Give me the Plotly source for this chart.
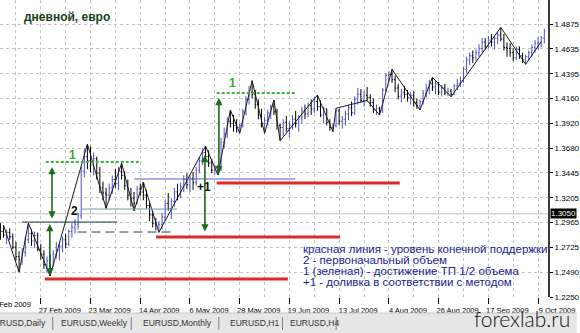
import pandas as pd
import plotly.graph_objects as go

# ---------------- data ----------------
DATES = pd.bdate_range("2009-02-10", periods=176)

OPEN0 = 1.2930
HIGH = [1.2960,1.2942,1.2900,1.2910,1.2860,1.2780,1.2690,1.2720,1.2830,1.2962,
        1.2900,1.2880,1.2870,1.2760,1.2700,1.2640,1.2660,1.2700,1.2780,1.2760,
        1.2830,1.2860,1.2900,1.2960,1.3000,1.3060,1.3500,1.3680,1.3721,1.3700,
        1.3640,1.3600,1.3500,1.3360,1.3300,1.3340,1.3420,1.3480,1.3500,1.3536,
        1.3460,1.3380,1.3300,1.3260,1.3320,1.3340,1.3356,1.3280,1.3160,1.3080,
        1.3010,1.2980,1.3060,1.3180,1.3250,1.3200,1.3300,1.3340,1.3350,1.3420,
        1.3440,1.3420,1.3450,1.3500,1.3600,1.3680,1.3702,1.3660,1.3580,1.3520,
        1.3520,1.3780,1.3880,1.3980,1.4048,1.4000,1.3960,1.3920,1.4060,1.4180,
        1.4280,1.4330,1.4240,1.4150,1.4060,1.3980,1.4050,1.4100,1.4144,1.4060,
        1.3920,1.3960,1.3990,1.3940,1.4000,1.4040,1.4000,1.4080,1.4100,1.4120,
        1.4150,1.4170,1.4192,1.4140,1.4080,1.4060,1.3960,1.3920,1.4065,1.4060,
        1.3990,1.4040,1.4100,1.4130,1.4180,1.4260,1.4250,1.4230,1.4270,1.4200,
        1.4160,1.4100,1.4080,1.4260,1.4400,1.4420,1.4439,1.4380,1.4300,1.4250,
        1.4280,1.4240,1.4220,1.4230,1.4160,1.4150,1.4240,1.4300,1.4340,1.4363,
        1.4330,1.4320,1.4290,1.4300,1.4260,1.4250,1.4300,1.4350,1.4370,1.4460,
        1.4560,1.4600,1.4620,1.4630,1.4680,1.4740,1.4740,1.4760,1.4780,1.4760,
        1.4800,1.4843,1.4780,1.4700,1.4690,1.4640,1.4660,1.4660,1.4600,1.4580,
        1.4620,1.4680,1.4720,1.4750,1.4760,1.4830]
LOW = [1.2800,1.2820,1.2760,1.2800,1.2710,1.2600,1.2490,1.2560,1.2640,1.2770,
       1.2740,1.2720,1.2690,1.2610,1.2520,1.2480,1.2452,1.2540,1.2620,1.2600,
       1.2680,1.2720,1.2740,1.2820,1.2860,1.2900,1.3000,1.3400,1.3480,1.3450,
       1.3420,1.3380,1.3250,1.3180,1.3103,1.3180,1.3240,1.3300,1.3280,1.3380,
       1.3280,1.3180,1.3120,1.3080,1.3140,1.3220,1.3180,1.3100,1.2980,1.2920,
       1.2890,1.2872,1.2900,1.2980,1.3080,1.3000,1.3120,1.3180,1.3200,1.3260,
       1.3290,1.3260,1.3280,1.3320,1.3440,1.3520,1.3560,1.3500,1.3440,1.3430,
       1.3423,1.3460,1.3680,1.3780,1.3880,1.3840,1.3830,1.3824,1.3880,1.4000,
       1.4100,1.4160,1.4060,1.3960,1.3880,1.3824,1.3900,1.3960,1.4000,1.3860,
       1.3753,1.3800,1.3840,1.3780,1.3860,1.3880,1.3840,1.3920,1.3960,1.3980,
       1.4000,1.4020,1.4040,1.3980,1.3920,1.3900,1.3850,1.3840,1.3880,1.3900,
       1.3870,1.3900,1.3950,1.3990,1.4000,1.4100,1.4120,1.4080,1.4130,1.4080,
       1.4020,1.4000,1.4000,1.4020,1.4220,1.4320,1.4310,1.4220,1.4150,1.4120,
       1.4160,1.4130,1.4100,1.4080,1.4060,1.4048,1.4100,1.4170,1.4200,1.4230,
       1.4200,1.4190,1.4180,1.4190,1.4180,1.4176,1.4190,1.4240,1.4270,1.4310,
       1.4400,1.4480,1.4500,1.4520,1.4560,1.4600,1.4630,1.4640,1.4660,1.4630,
       1.4680,1.4710,1.4620,1.4560,1.4560,1.4520,1.4530,1.4540,1.4500,1.4487,
       1.4520,1.4560,1.4600,1.4630,1.4650,1.4690]
CLOSE = [1.2880,1.2845,1.2870,1.2830,1.2730,1.2640,1.2610,1.2680,1.2800,1.2860,
         1.2790,1.2840,1.2710,1.2660,1.2560,1.2600,1.2520,1.2660,1.2700,1.2740,
         1.2800,1.2760,1.2880,1.2920,1.2950,1.3030,1.3460,1.3600,1.3560,1.3520,
         1.3580,1.3440,1.3300,1.3250,1.3230,1.3300,1.3380,1.3340,1.3460,1.3420,
         1.3320,1.3230,1.3200,1.3150,1.3290,1.3260,1.3230,1.3130,1.3040,1.2960,
         1.2940,1.2950,1.3020,1.3150,1.3100,1.3170,1.3260,1.3220,1.3310,1.3380,
         1.3330,1.3390,1.3350,1.3470,1.3560,1.3640,1.3600,1.3540,1.3470,1.3500,
         1.3480,1.3740,1.3820,1.3940,1.3920,1.3900,1.3880,1.3900,1.4030,1.4150,
         1.4220,1.4200,1.4100,1.4000,1.3920,1.3950,1.4020,1.4080,1.4030,1.3900,
         1.3880,1.3930,1.3870,1.3900,1.3960,1.3920,1.3980,1.4040,1.4010,1.4090,
         1.4060,1.4130,1.4080,1.4000,1.4060,1.3930,1.3880,1.3900,1.4040,1.3940,
         1.3960,1.4010,1.4070,1.4020,1.4150,1.4200,1.4140,1.4190,1.4170,1.4120,
         1.4050,1.4060,1.4040,1.4240,1.4380,1.4390,1.4340,1.4260,1.4180,1.4220,
         1.4200,1.4170,1.4190,1.4120,1.4090,1.4130,1.4210,1.4260,1.4300,1.4270,
         1.4300,1.4220,1.4260,1.4210,1.4230,1.4200,1.4280,1.4300,1.4330,1.4440,
         1.4530,1.4570,1.4550,1.4600,1.4640,1.4700,1.4660,1.4720,1.4700,1.4740,
         1.4770,1.4730,1.4650,1.4640,1.4600,1.4550,1.4630,1.4570,1.4530,1.4560,
         1.4600,1.4650,1.4690,1.4700,1.4740,1.4800]

# ZigZag indicator vertices (bar index, price)
ZZ_IDX = [1, 6, 9, 16, 28, 34, 39, 43, 46, 51, 66, 70, 74, 77, 81, 85, 88, 90,
          102, 107, 108, 118, 122, 126, 135, 139, 145, 161, 169, 174]
ZZ_PRICE = [1.2942, 1.2490, 1.2962, 1.2452, 1.3721, 1.3103, 1.3536, 1.3080,
            1.3356, 1.2872, 1.3702, 1.3423, 1.4048, 1.3824, 1.4330, 1.3824,
            1.4144, 1.3753, 1.4192, 1.3840, 1.4065, 1.4140, 1.4000, 1.4439,
            1.4048, 1.4363, 1.4176, 1.4843, 1.4487, 1.4705]

Y_TICKS = [1.4875, 1.4635, 1.4395, 1.4160, 1.3920, 1.3680, 1.3445,
           1.3205, 1.2965, 1.2725, 1.2490, 1.2250]
X_TICK_IDX = [13, 29, 45, 61, 77, 93, 109, 125, 141, 157, 173]
X_CUT_IDX = -3            # "5 Feb 2009" label, cut by the left edge
MARK_PRICE = 1.3050       # grey horizontal level with price tag

# drawn levels: (kind, start bar, end bar, price)
LEVELS = [
    ("red",   14.3, 92.5, 1.2423),
    ("red",   50.1, 109.3, 1.2827),
    ("red",   69.6, 128.5, 1.3346),
    ("blue",  43.1, 94.9, 1.3385),
    ("teal",  26.1, 56.8, 1.3096),
    ("dark",  6.9, 37.6, 1.2971),
    ("dash",  24.8, 55.9, 1.2875),
    ("green", 14.6, 45.3, 1.3548),
    ("green", 69.6, 94.9, 1.4212),
]
# double-headed arrows: (bar, price top, price bottom)
ARROWS = [(16.6, 1.3500, 1.2991), (15.9, 1.2952, 1.2443),
          (65.8, 1.3616, 1.2866), (70.3, 1.4164, 1.3423)]
# chart labels: (text, kind, bar, price)
LABELS = [("1", "green", 23.2, 1.3616), ("2", "black", 23.9, 1.3077),
          ("1", "green", 74.8, 1.4305), ("+1", "black", 65.5, 1.3305)]

TITLE = "дневной, евро"
NOTES = ["красная линия - уровень конечной поддержки",
         "2 - первоначальный объем",
         "1 (зеленая) - достижение ТП 1/2 объема",
         "+1 - доливка в соответствии с методом"]
NOTES_BAR = 96.8
NOTES_PRICE = [1.2712, 1.2606, 1.2500, 1.2394]
TABS = ["EURUSD,Daily", "EURUSD,Weekly", "EURUSD,Monthly", "EURUSD,H1", "EURUSD,H4"]

# ---------------- figure ----------------
W, H = 580, 333
ML, MR, MT, MB = 0, 29, 0, 36
PW, PH = W - ML - MR, H - MT - MB
X0 = -0.128
X1 = X0 + PW / 3.125
Y1 = 1.5106
Y0 = Y1 - PH / 1040.0

X = list(range(len(CLOSE)))
OPEN = [OPEN0] + CLOSE[:-1]

BLUE = "#4f4fd0"
SMALL = "Liberation Sans Narrow, Liberation Sans, Arial"
MAIN = "Liberation Sans, Arial"

fig = go.Figure()
fig.add_trace(go.Ohlc(
    x=X, open=OPEN, high=HIGH, low=LOW, close=CLOSE,
    increasing=dict(line=dict(color=BLUE, width=1)),
    decreasing=dict(line=dict(color="#000000", width=1)),
    tickwidth=0.35, hoverinfo="skip", showlegend=False))
fig.add_trace(go.Scatter(x=ZZ_IDX, y=ZZ_PRICE, mode="lines",
                         line=dict(color="#1a1a1a", width=1),
                         hoverinfo="skip", showlegend=False))

STYLE = {
    "red":   dict(color="#e02828", width=3),
    "blue":  dict(color="#5a5ad0", width=1),
    "teal":  dict(color="#6f9c9c", width=1),
    "dark":  dict(color="#1c3b3b", width=1),
    "dash":  dict(color="#23433f", width=1, dash="9px,5px"),
    "green": dict(color="#3cb43c", width=2, dash="3px,2px"),
}
shapes = [dict(type="line", xref="paper", yref="y", x0=0, x1=1,
               y0=MARK_PRICE, y1=MARK_PRICE, line=dict(color="#c4c4c4", width=1),
               layer="below")]
for kind, a, b, p in LEVELS:
    shapes.append(dict(type="line", xref="x", yref="y", x0=a, x1=b, y0=p, y1=p,
                       line=STYLE[kind]))

def px_x(px):
    return (px - ML) / PW

def px_y(py):
    return (H - MB - py) / PH

# tab bar
shapes.append(dict(type="rect", xref="paper", yref="paper",
                   x0=px_x(0), x1=px_x(W), y0=px_y(H), y1=px_y(313),
                   fillcolor="#e6e6e6", line=dict(width=0), layer="above"))
shapes.append(dict(type="line", xref="paper", yref="paper",
                   x0=px_x(0), x1=px_x(W), y0=px_y(313), y1=px_y(313),
                   line=dict(color="#c8c8c8", width=1)))

annotations = []
for x, ytop, ybot in ARROWS:
    annotations.append(dict(x=x, y=ytop, ax=x, ay=ybot, xref="x", yref="y",
                            axref="x", ayref="y", text="", showarrow=True,
                            arrowhead=2, startarrowhead=2, arrowside="end+start",
                            arrowsize=0.9, startarrowsize=0.9, arrowwidth=1.6,
                            arrowcolor="#1a6b1a"))
for txt, kind, x, p in LABELS:
    annotations.append(dict(x=x, y=p, xref="x", yref="y", text="<b>%s</b>" % txt,
                            showarrow=False, xanchor="center", yanchor="middle",
                            font=dict(family=MAIN, size=12,
                                      color="#37a837" if kind == "green" else "#111111")))
for line, p in zip(NOTES, NOTES_PRICE):
    annotations.append(dict(x=NOTES_BAR, y=p, xref="x", yref="y", text=line,
                            showarrow=False, xanchor="left", yanchor="middle",
                            font=dict(family=MAIN, size=11.5, color="#1c1c8e")))
annotations.append(dict(x=px_x(22), y=px_y(17), xref="paper", yref="paper",
                        text="<b>%s</b>" % TITLE, showarrow=False,
                        xanchor="left", yanchor="middle",
                        font=dict(family=MAIN, size=12, color="#173f17")))
# price tag for the grey level
annotations.append(dict(x=1, y=MARK_PRICE, xref="paper", yref="y",
                        text="%.4f" % MARK_PRICE, showarrow=False,
                        xanchor="left", yanchor="middle", xshift=2,
                        bgcolor="#000000", borderpad=0,
                        font=dict(family=SMALL, size=8, color="#ffffff")))
# date label cut by the left edge
annotations.append(dict(x=(X_CUT_IDX - X0) / (X1 - X0), y=px_y(304),
                        xref="paper", yref="paper",
                        text=DATES[0].replace(day=5).strftime("%-d %b %Y"),
                        showarrow=False, xanchor="left", yanchor="middle", xshift=0,
                        font=dict(family=SMALL, size=7.5, color="#000000")))
# tabs
tab_x = [-14, 59, 142, 229, 290]
sep_x = [53, 132, 220, 284, 338]
for t, x in zip(TABS, tab_x):
    annotations.append(dict(x=px_x(x), y=px_y(323), xref="paper", yref="paper",
                            text=t, showarrow=False, xanchor="left", yanchor="middle",
                            font=dict(family=SMALL, size=8.5, color="#333333")))
for x in sep_x:
    shapes.append(dict(type="line", xref="paper", yref="paper",
                       x0=px_x(x), x1=px_x(x), y0=px_y(317), y1=px_y(330),
                       line=dict(color="#808080", width=1)))
annotations.append(dict(x=px_x(525), y=px_y(318), xref="paper", yref="paper",
                        text="forexlab.ru", showarrow=False,
                        xanchor="center", yanchor="middle",
                        font=dict(family="Lato, Liberation Sans", size=21,
                                  color="#111111", weight=300)))

fig.update_layout(
    width=W, height=H, margin=dict(l=ML, r=MR, t=MT, b=MB),
    paper_bgcolor="#ffffff", plot_bgcolor="#ffffff",
    shapes=shapes, annotations=annotations, showlegend=False,
    xaxis=dict(range=[X0, X1], rangeslider=dict(visible=False),
               tickvals=X_TICK_IDX,
               ticktext=[DATES[i].strftime("%-d %b %Y") for i in X_TICK_IDX],
               ticks="outside", ticklen=6, tickcolor="#000000",
               tickangle=0, ticklabelshift=19, ticklabelstandoff=0,
               tickfont=dict(family=SMALL, size=7.5, color="#000000"),
               showgrid=True, gridcolor="#c4c4c4", griddash="dot", gridwidth=1,
               minor=dict(tickmode="linear", tick0=5, dtick=8, showgrid=True,
                          gridcolor="#c4c4c4", griddash="dot", ticks=""),
               showline=False, zeroline=False, fixedrange=True),
    yaxis=dict(range=[Y0, Y1], side="right", tickvals=Y_TICKS,
               ticktext=["%.4f" % v for v in Y_TICKS],
               ticks="outside", ticklen=3, tickcolor="#000000",
               tickfont=dict(family=SMALL, size=8, color="#000000"),
               showgrid=True, gridcolor="#c4c4c4", griddash="dot",
               showline=True, linecolor="#3c3c3c", linewidth=2,
               zeroline=False, fixedrange=True),
)

fig.write_html("out.html")
